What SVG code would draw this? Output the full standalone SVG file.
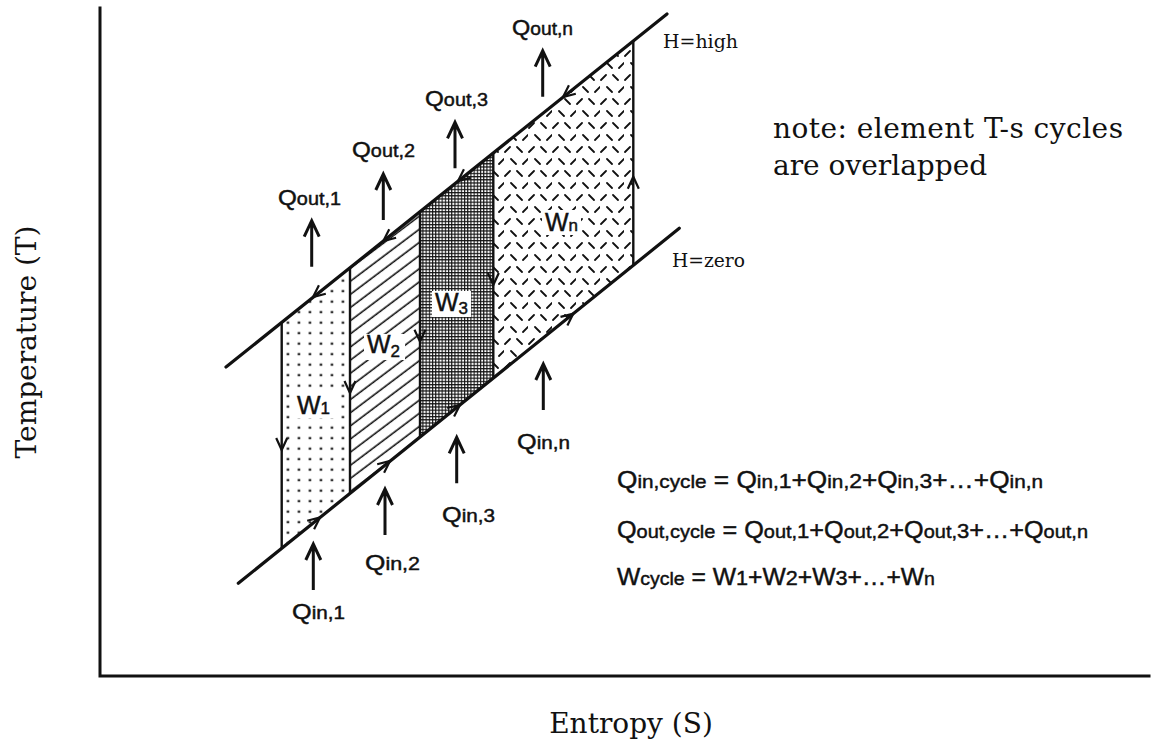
<svg xmlns="http://www.w3.org/2000/svg" xmlns:xlink="http://www.w3.org/1999/xlink" width="1153" height="744" viewBox="0 0 1153 744">
<style>
.ax{stroke:#111;stroke-width:3;fill:none;stroke-linecap:square}
.iso{stroke:#111;stroke-width:3.2;fill:none;stroke-linecap:round}
.vl{stroke:#111;stroke-width:2.4;fill:none}
.chev{stroke:#111;stroke-width:2.2;fill:none;stroke-linejoin:miter}
.ha{stroke:#111;stroke-width:3;fill:none;stroke-linejoin:miter}
.serif{font-family:"DejaVu Serif","Liberation Serif",serif;fill:#111}
.sans{font-family:"Liberation Sans",Arial,sans-serif;fill:#111;stroke:#111;stroke-width:0.45}
.qb{font-size:22px}
.qs{font-size:18px}
.eb{font-size:24px}
.es{font-size:19px}
.ed{font-size:21px}
.wb{font-size:25px}
.ws{font-size:17px}
</style>
<defs>
<pattern id="dots" width="11" height="10.5" patternUnits="userSpaceOnUse" x="282.3" y="2">
<rect x="4.5" y="4.5" width="2.3" height="2.3" fill="#111"/>
</pattern>
<pattern id="hatch" width="20" height="10.5" patternUnits="userSpaceOnUse" patternTransform="rotate(-37)">
<line x1="0" y1="5" x2="20" y2="5" stroke="#111" stroke-width="1.6"/>
</pattern>
<pattern id="grid" width="3.2" height="3.2" patternUnits="userSpaceOnUse">
<rect width="3.2" height="3.2" fill="#fff"/>
<path d="M0,0.55H3.2M0.55,0V3.2" stroke="#111" stroke-width="1.1"/>
</pattern>
<pattern id="dash" width="24" height="24" patternUnits="userSpaceOnUse">
<path d="M1,8 L6,3 M13,3 L18,8 M7,15 L12,20 M19,20 L24,15" stroke="#111" stroke-width="1.8" stroke-linecap="round"/>
</pattern>
<path id="chev" class="chev" d="M-12,-5.5 L0,0 L-12,5.5"/>
<path id="harrow" class="ha" d="M0,0 V-46 M-7.5,-30 L0,-46 L7.5,-30"/>
</defs>

<g id="axes">
<path class="ax" d="M100,8 V676 H1149"/>
<text class="serif" font-size="28" text-anchor="middle" transform="translate(36,342) rotate(-90)">Temperature (T)</text>
<text class="serif" font-size="28" x="631" y="733" text-anchor="middle">Entropy (S)</text>
</g>

<g id="W1">
<polygon points="281.7,322.2 350,267.6 350,493.4 281.7,548.4" fill="url(#dots)"/>
<rect x="294" y="393" width="41" height="25" fill="#fff"/>
<text class="sans" x="297" y="414"><tspan class="wb">W</tspan><tspan class="ws">1</tspan></text>
</g>
<g id="W2">
<polygon points="350,267.6 420,211.6 420,437 350,493.4" fill="url(#hatch)"/>
<rect x="364" y="334" width="41" height="26" fill="#fff"/>
<text class="sans" x="367" y="353"><tspan class="wb">W</tspan><tspan class="ws" dy="4">2</tspan></text>
</g>
<g id="W3">
<polygon points="420,211.6 493.3,153 493.3,378 420,437" fill="url(#grid)"/>
<rect x="432" y="291" width="39" height="26" fill="#fff"/>
<text class="sans" x="435" y="311"><tspan class="wb">W</tspan><tspan class="ws" dy="3">3</tspan></text>
</g>
<g id="Wn">
<polygon points="493.3,153 633.3,41 633.3,265.3 493.3,378" fill="url(#dash)"/>
<rect x="542" y="210" width="39" height="25" fill="#fff"/>
<text class="sans" x="545" y="231"><tspan class="wb">W</tspan><tspan class="ws">n</tspan></text>
</g>

<g id="lines">
<line class="iso" x1="226" y1="367" x2="667" y2="14"/>
<line class="iso" x1="238.3" y1="583.3" x2="679.3" y2="228.3"/>
<line class="vl" x1="281.7" y1="322.2" x2="281.7" y2="548.4"/>
<line class="vl" x1="350" y1="267.6" x2="350" y2="493.4"/>
<line class="vl" x1="420" y1="211.6" x2="420" y2="437"/>
<line class="vl" x1="493.3" y1="153" x2="493.3" y2="378"/>
<line class="vl" x1="633.3" y1="41" x2="633.3" y2="265.3"/>
<text class="serif" font-size="19" x="663" y="48" textLength="75" lengthAdjust="spacingAndGlyphs">H=high</text>
<text class="serif" font-size="19" x="672" y="267" textLength="73" lengthAdjust="spacingAndGlyphs">H=zero</text>
</g>

<g id="connectors">
<use xlink:href="#chev" transform="translate(563,97) rotate(141.34)"/>
<use xlink:href="#chev" transform="translate(458,181) rotate(141.34)"/>
<use xlink:href="#chev" transform="translate(383.3,241) rotate(141.34)"/>
<use xlink:href="#chev" transform="translate(313,297) rotate(141.34)"/>
<use xlink:href="#chev" transform="translate(320,517.5) rotate(-38.83)"/>
<use xlink:href="#chev" transform="translate(390,461) rotate(-38.83)"/>
<use xlink:href="#chev" transform="translate(460,404.8) rotate(-38.83)"/>
<use xlink:href="#chev" transform="translate(573.3,313.6) rotate(-38.83)"/>
<use xlink:href="#chev" transform="translate(281.7,450) rotate(90)"/>
<use xlink:href="#chev" transform="translate(350,393) rotate(90)"/>
<use xlink:href="#chev" transform="translate(420,341.7) rotate(90)"/>
<use xlink:href="#chev" transform="translate(493.3,285) rotate(90)"/>
<use xlink:href="#chev" transform="translate(633.3,176.7) rotate(-90)"/>
<use xlink:href="#harrow" transform="translate(311.7,266.7)"/>
<use xlink:href="#harrow" transform="translate(383.3,220)"/>
<use xlink:href="#harrow" transform="translate(455,168.3)"/>
<use xlink:href="#harrow" transform="translate(542.7,96.7)"/>
<use xlink:href="#harrow" transform="translate(313.3,590)"/>
<use xlink:href="#harrow" transform="translate(385,535)"/>
<use xlink:href="#harrow" transform="translate(456.7,483.3)"/>
<use xlink:href="#harrow" transform="translate(543.3,410)"/>
</g>

<g id="heat-labels">
<text class="sans" x="278" y="205" textLength="63" lengthAdjust="spacingAndGlyphs"><tspan class="qb">Q</tspan><tspan class="qs">out,1</tspan></text>
<text class="sans" x="352" y="157" textLength="63" lengthAdjust="spacingAndGlyphs"><tspan class="qb">Q</tspan><tspan class="qs">out,2</tspan></text>
<text class="sans" x="425" y="106" textLength="63" lengthAdjust="spacingAndGlyphs"><tspan class="qb">Q</tspan><tspan class="qs">out,3</tspan></text>
<text class="sans" x="512" y="35" textLength="61" lengthAdjust="spacingAndGlyphs"><tspan class="qb">Q</tspan><tspan class="qs">out,n</tspan></text>
<text class="sans" x="292" y="619" textLength="53" lengthAdjust="spacingAndGlyphs"><tspan class="qb">Q</tspan><tspan class="qs">in,1</tspan></text>
<text class="sans" x="365" y="570" textLength="55" lengthAdjust="spacingAndGlyphs"><tspan class="qb">Q</tspan><tspan class="qs">in,2</tspan></text>
<text class="sans" x="442" y="522" textLength="53" lengthAdjust="spacingAndGlyphs"><tspan class="qb">Q</tspan><tspan class="qs">in,3</tspan></text>
<text class="sans" x="517" y="449" textLength="53" lengthAdjust="spacingAndGlyphs"><tspan class="qb">Q</tspan><tspan class="qs">in,n</tspan></text>
</g>

<g id="note">
<text class="serif" font-size="28" x="773" y="138" textLength="350" lengthAdjust="spacing">note: element T-s cycles</text>
<text class="serif" font-size="28" x="773" y="175">are overlapped</text>
</g>

<g id="equations">
<text class="sans" x="617" y="488" textLength="426" lengthAdjust="spacingAndGlyphs"><tspan class="eb">Q</tspan><tspan class="es">in,cycle</tspan><tspan class="eb"> = Q</tspan><tspan class="es">in,</tspan><tspan class="ed">1</tspan><tspan class="eb">+Q</tspan><tspan class="es">in,</tspan><tspan class="ed">2</tspan><tspan class="eb">+Q</tspan><tspan class="es">in,</tspan><tspan class="ed">3</tspan><tspan class="eb">+…+Q</tspan><tspan class="es">in,n</tspan></text>
<text class="sans" x="617" y="538" textLength="471" lengthAdjust="spacingAndGlyphs"><tspan class="eb">Q</tspan><tspan class="es">out,cycle</tspan><tspan class="eb"> = Q</tspan><tspan class="es">out,</tspan><tspan class="ed">1</tspan><tspan class="eb">+Q</tspan><tspan class="es">out,</tspan><tspan class="ed">2</tspan><tspan class="eb">+Q</tspan><tspan class="es">out,</tspan><tspan class="ed">3</tspan><tspan class="eb">+…+Q</tspan><tspan class="es">out,n</tspan></text>
<text class="sans" x="617" y="585" textLength="318" lengthAdjust="spacingAndGlyphs"><tspan class="eb">W</tspan><tspan class="es">cycle</tspan><tspan class="eb"> = W</tspan><tspan class="ed">1</tspan><tspan class="eb">+W</tspan><tspan class="ed">2</tspan><tspan class="eb">+W</tspan><tspan class="ed">3</tspan><tspan class="eb">+…+W</tspan><tspan class="es">n</tspan></text>
</g>
</svg>
